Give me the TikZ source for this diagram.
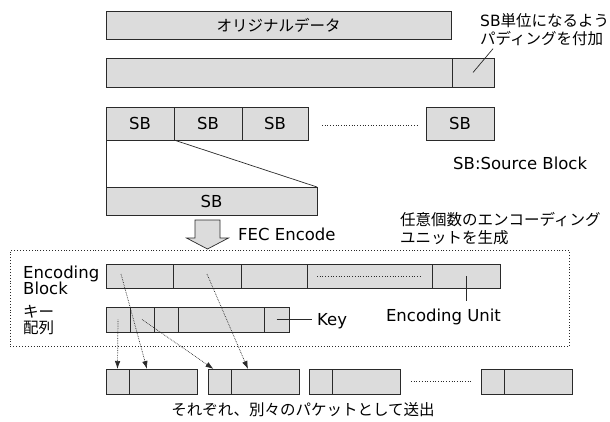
\documentclass[tikz,border=0pt]{standalone}
\usepackage{fontspec}
\setmainfont{DejaVu Sans}
\newfontfamily\jpfont{Noto Sans CJK JP}
\newfontfamily\enfont{DejaVu Sans}
\usepackage{tikz}
\usetikzlibrary{arrows.meta,calc,positioning}
\definecolor{FecFill}{HTML}{DCDCDC}
\definecolor{FecLine}{HTML}{2A2A2A}
\tikzset{
  >=Latex,
  cellbox/.style={draw=FecLine,line width=0.8pt,fill=FecFill,inner sep=0pt,outer sep=0pt,
    font=\fontsize{16.5}{18}\selectfont\enfont},
  jplabel/.style={inner sep=0pt,align=left,font=\fontsize{15.5}{18}\selectfont\jpfont},
  enlabel/.style={inner sep=0pt,align=left,font=\fontsize{16.5}{16}\selectfont\enfont},
  leader/.style={draw=FecLine,line width=0.7pt},
  gapline/.style={draw=FecLine,line width=0.7pt,dotted},
  sendflow/.style={-{Latex[length=8pt,width=5.5pt]},line width=0.7pt,densely dotted,draw=FecLine},
  encframe/.style={draw=FecLine,line width=0.9pt,dotted,inner sep=0pt}
}

\begin{document}
\begin{tikzpicture}[x=1pt,y=-1pt]
  \useasboundingbox (0,0) rectangle (610,421);
  \node[cellbox,anchor=north west,minimum width=345pt,minimum height=28pt,
    font=\fontsize{15.5}{17}\selectfont\jpfont] (orig) at (106,11) {オリジナルデータ};
  \node[cellbox,anchor=north west,minimum width=346pt,minimum height=29pt] (padded) at (106,58) {};
  \node[cellbox,minimum width=42pt,minimum height=29pt,right=0pt of padded] (pad) {};
  \node[jplabel,anchor=north west] (padnote) at (480,13) {{\enfont SB}単位になるよう\\パディングを付加};
  \draw[leader] ($(padnote.south west)+(13,3)$) -- (pad.center);

  \foreach \n/\a/\b in {1/106/174,2/174/242,3/242/308}
    \node[cellbox,anchor=north west,minimum width={(\b-\a)*1pt},minimum height=33pt] (sb\n) at (\a,107) {SB};
  \node[cellbox,anchor=north west,minimum width=68pt,minimum height=33pt] (sbN) at (426,107) {SB};
  \draw[gapline] ($(sb3.east)+(14,2)$) -- ($(sbN.west)+(-9,2)$);
  \node[enlabel,anchor=west] (sbnote) at (453,163) {SB:Source Block};
  \node[cellbox,anchor=north west,minimum width=211pt,minimum height=28pt] (sbbig) at (106,187) {SB};
  \draw[leader] (sb1.south west) -- (sbbig.north west);
  \draw[leader] (sb2.south west) -- (sbbig.north east);

  \coordinate (fec) at (207.5,220);
  \draw[leader,fill=FecFill] (fec) ++(-12.5,0) -- ++(25,0) -- ++(0,18) -- ++(8.5,0)
    -- ++(-21,11) -- ++(-21,-11) -- ++(8.5,0) -- cycle;
  \node[enlabel,anchor=west] (feclabel) at (238,234) {FEC Encode};
  \node[jplabel,anchor=west] (gennote) at (400,229) {任意個数のエンコーディング\\ユニットを生成};

  \node[encframe,anchor=north west,minimum width=559pt,minimum height=96pt] (encarea) at (10,250) {};
  \node[enlabel,anchor=west] (enclabel) at (23,280) {Encoding\\Block};
  \node[jplabel,anchor=west,font=\fontsize{15.5}{16}\selectfont\jpfont] (keylabel) at (23,320) {キー\\配列};

  \foreach \n/\a/\b in {1/106/173,2/173/241,3/241/307,4/307/432,5/432/500}
    \node[cellbox,anchor=north west,minimum width={(\b-\a)*1pt},minimum height=24pt] (enc\n) at (\a,264) {};
  \draw[gapline] ($(enc4.west)+(10,0)$) -- ($(enc4.east)+(-10,0)$);
  \node[enlabel] (eulabel) at (443.5,317) {Encoding Unit};
  \draw[leader] (enc5.center) -- ($(enc5.center |- eulabel.north)+(0,-8)$);

  \foreach \n/\a/\b in {1/106/130,2/130/154,3/154/178,4/178/264,5/264/289}
    \node[cellbox,anchor=north west,minimum width={(\b-\a)*1pt},minimum height=25pt] (key\n) at (\a,307) {};
  \node[enlabel,anchor=west] (keytext) at (317,321) {Key};
  \draw[leader] (key5.center) -- ($(keytext.west |- key5.center)+(-5,0)$);

  \foreach \n/\a in {1/106,2/208,3/309,4/481} {
    \node[cellbox,anchor=north west,minimum width=23pt,minimum height=25pt] (pkey\n) at (\a,369) {};
    \node[cellbox,minimum width=68pt,minimum height=25pt,right=0pt of pkey\n] (pdata\n) {};
  }
  \draw[gapline] ($(pdata3.east)+(11,0)$) -- ($(pkey4.west)+(-10,0)$);
  \node[jplabel] (sendnote) at (303,410) {それぞれ、別々のパケットとして送出};

  \draw[sendflow] (key1.center) -- (pkey1.north);
  \draw[sendflow] ($(enc1.west)+(15,-2)$) -- ($(pdata1.north west)+(18,0)$);
  \draw[sendflow] (key2.center) -- ($(pkey2.north)+(-6,0)$);
  \draw[sendflow] ($(enc2.center)+(0,-2)$) -- ($(pdata2.north west)+(17,0)$);
\end{tikzpicture}
\end{document}
